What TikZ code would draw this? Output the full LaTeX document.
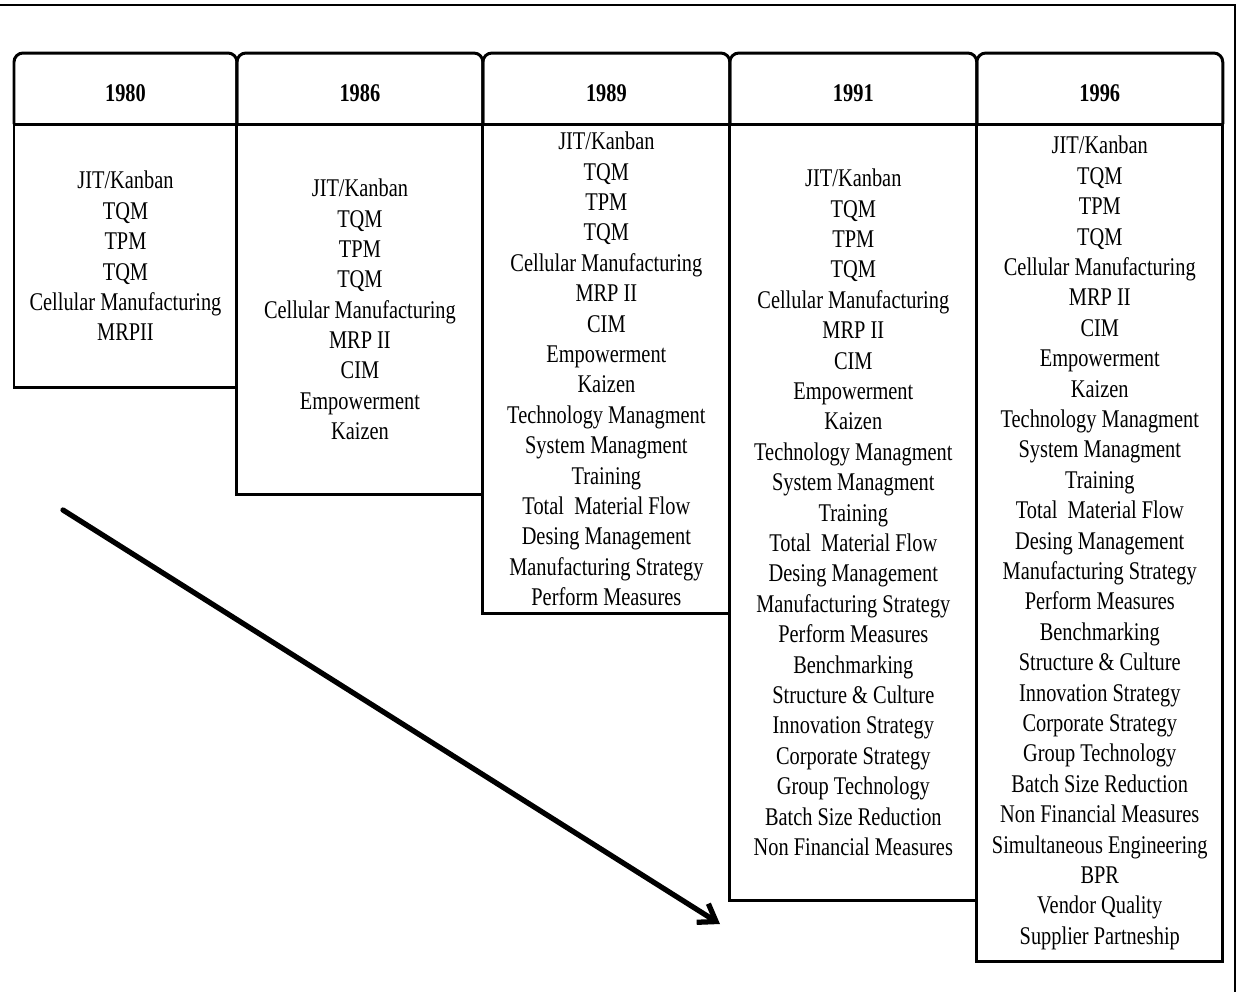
\documentclass[tikz,border=0pt]{standalone}
\usepackage{fontspec}
\setmainfont[FakeStretch=0.8]{Liberation Serif}
\usetikzlibrary{positioning}
\usetikzlibrary{arrows.meta}

\begin{document}
\begin{tikzpicture}
    [
    x=0.02cm, y=-0.02cm,
    every node/.style={outer sep=0pt},
    itembox/.style={draw, line width=1.7pt, anchor=north west, align=center, inner sep=0pt,
        font=\fontsize{14.5}{17.3}\selectfont},
    yearlabel/.style={inner sep=0pt, font=\fontsize{14.5}{17.3}\selectfont\bfseries},
    yeartab/.style={draw, line width=1.7pt, rounded corners=0.18cm},
    trend/.style={line width=3pt, line cap=round, -{Straight Barb[length=3.2mm,width=4.4mm]}},
    frame/.style={line width=1.2pt},
    ]
    \useasboundingbox (0,0) rectangle (1242,992);

    % outer frame (top and right edges only)
    \draw[frame] (0,5) -- (1235,5) -- (1235,992);

    \node[itembox, minimum width=4.46cm, minimum height=5.28cm] (box_1980) at (14,124)
    {JIT/Kanban\\TQM\\TPM\\TQM\\Cellular Manufacturing\\MRPII};

    \node[itembox, minimum width=4.92cm, minimum height=7.42cm] (box_1986) at (box_1980.north east)
    {JIT/Kanban\\TQM\\TPM\\TQM\\Cellular Manufacturing\\MRP II\\CIM\\Empowerment\\Kaizen};

    \node[itembox, minimum width=4.94cm, minimum height=9.8cm] (box_1989) at (box_1986.north east)
    {JIT/Kanban\\TQM\\TPM\\TQM\\Cellular Manufacturing\\MRP II\\CIM\\Empowerment\\Kaizen\\
     Technology Managment\\System Managment\\Training\\Total~ Material Flow\\Desing Management\\
     Manufacturing Strategy\\Perform Measures};

    \node[itembox, minimum width=4.94cm, minimum height=15.54cm] (box_1991) at (box_1989.north east)
    {JIT/Kanban\\TQM\\TPM\\TQM\\Cellular Manufacturing\\MRP II\\CIM\\Empowerment\\Kaizen\\
     Technology Managment\\System Managment\\Training\\Total~ Material Flow\\Desing Management\\
     Manufacturing Strategy\\Perform Measures\\Benchmarking\\Structure \& Culture\\
     Innovation Strategy\\Corporate Strategy\\Group Technology\\Batch Size Reduction\\
     Non Financial Measures};

    \node[itembox, minimum width=4.92cm, minimum height=16.76cm] (box_1996) at (box_1991.north east)
    {JIT/Kanban\\TQM\\TPM\\TQM\\Cellular Manufacturing\\MRP II\\CIM\\Empowerment\\Kaizen\\
     Technology Managment\\System Managment\\Training\\Total~ Material Flow\\Desing Management\\
     Manufacturing Strategy\\Perform Measures\\Benchmarking\\Structure \& Culture\\
     Innovation Strategy\\Corporate Strategy\\Group Technology\\Batch Size Reduction\\
     Non Financial Measures\\Simultaneous Engineering\\BPR\\Vendor Quality\\Supplier Partneship};

    % year tabs
    \draw[yeartab] (box_1980.north west) -- ++(0,-71) -| (box_1980.north east);
    \draw[yeartab] (box_1986.north west) -- ++(0,-71) -| (box_1986.north east);
    \draw[yeartab] (box_1989.north west) -- ++(0,-71) -| (box_1989.north east);
    \draw[yeartab] (box_1991.north west) -- ++(0,-71) -| (box_1991.north east);
    \draw[yeartab] (box_1996.north west) -- ++(0,-71) -| (box_1996.north east);

    \node[yearlabel, above=0.44cm of box_1980] (hdr_1980) {1980};
    \node[yearlabel, above=0.44cm of box_1986] (hdr_1986) {1986};
    \node[yearlabel, above=0.44cm of box_1989] (hdr_1989) {1989};
    \node[yearlabel, above=0.44cm of box_1991] (hdr_1991) {1991};
    \node[yearlabel, above=0.44cm of box_1996] (hdr_1996) {1996};

    % trend arrow
    \coordinate (trend_start) at (63,510);
    \coordinate (trend_end) at (720,924);
    \draw[trend] (trend_start) -- (trend_end);
\end{tikzpicture}
\end{document}
